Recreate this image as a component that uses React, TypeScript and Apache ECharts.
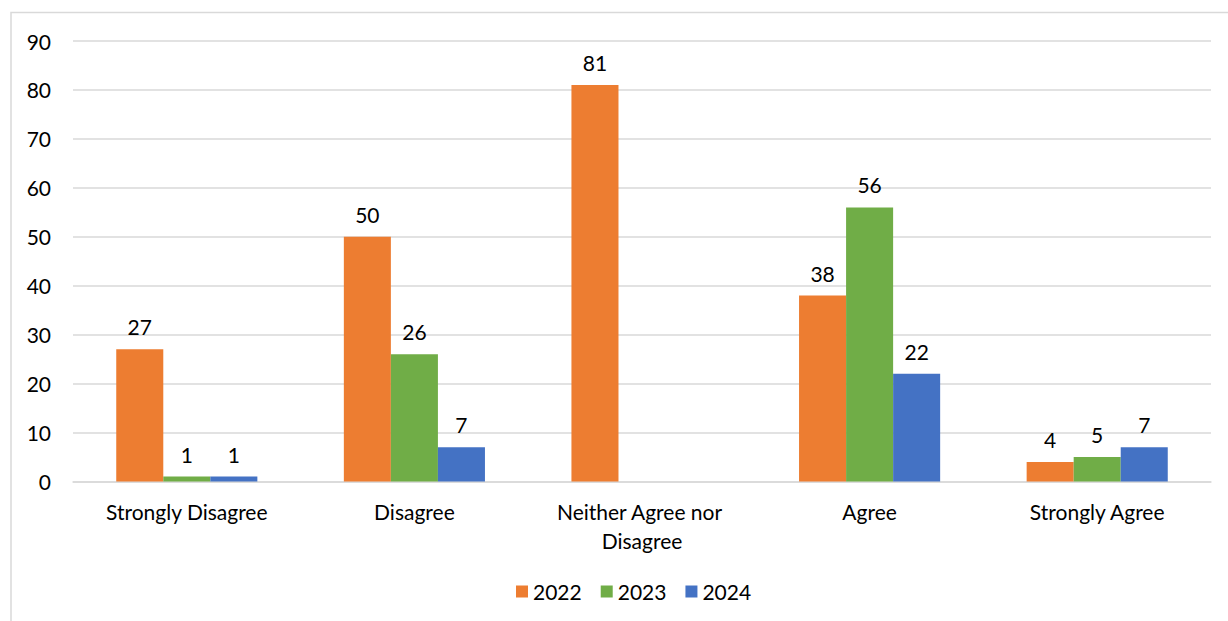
import React, { useEffect, useRef } from "react";
import * as echarts from "echarts";

const categories = ["Strongly Disagree", "Disagree", "Neither Agree nor Disagree", "Agree", "Strongly Agree"];
const years = ["2022", "2023", "2024"];
const values2022 = [27, 50, 81, 38, 4];
const values2023 = [1, 26, null, 56, 5];
const values2024 = [1, 7, null, 22, 7];
const colors = ["#ED7D31", "#70AD47", "#4472C4"];
const yTicks = { min: 0, max: 90, interval: 10 };

const FONT = "Lato, 'Open Sans', sans-serif";
const FS = 21;

export default function App() {
  const ref = useRef<HTMLDivElement>(null);
  useEffect(() => {
    if (!ref.current) return;
    const chart = echarts.init(ref.current, null, { renderer: "svg" });
    const seriesData = [values2022, values2023, values2024];
    chart.setOption({
      animation: false,
      textStyle: { fontFamily: FONT },
      graphic: [
        {
          type: "rect",
          shape: { x: 11, y: 12.5, width: 1400, height: 800 },
          style: { fill: "none", stroke: "#d9d9d9", lineWidth: 1.5 },
          silent: true,
        },
      ],
      grid: { left: 73, right: 17, top: 41, bottom: 139.5, containLabel: false },
      legend: {
        data: years,
        bottom: 14,
        left: 511,
        itemWidth: 12,
        itemHeight: 12,
        itemGap: 19,
        icon: "rect",
        textStyle: { fontSize: FS, color: "#000", fontFamily: FONT },
      },
      xAxis: {
        type: "category",
        data: categories,
        axisLine: { lineStyle: { color: "#d9d9d9", width: 1.5 } },
        axisTick: { show: false },
        axisLabel: {
          fontSize: FS,
          color: "#000",
          margin: 15,
          lineHeight: 29,
          width: 205,
          overflow: "break",
          interval: 0,
          fontFamily: FONT,
        },
      },
      yAxis: {
        type: "value",
        min: yTicks.min,
        max: yTicks.max,
        interval: yTicks.interval,
        axisLine: { show: false },
        axisTick: { show: false },
        splitLine: { lineStyle: { color: "#d9d9d9", width: 1.5 } },
        axisLabel: { fontSize: FS, color: "#000", margin: 22, fontFamily: FONT },
      },
      series: years.map((y, i) => ({
        name: y,
        type: "bar",
        data: seriesData[i],
        itemStyle: { color: colors[i] },
        barGap: "0%",
        barCategoryGap: "38%",
        label: {
          show: true,
          position: "top",
          distance: 12,
          fontSize: FS,
          color: "#000",
          fontFamily: FONT,
        },
      })),
    });
    return () => chart.dispose();
  }, []);
  return (
    <div
      ref={ref}
      style={{ position: "fixed", left: 0, top: 0, width: 1228, height: 621, background: "#fff" }}
    />
  );
}
